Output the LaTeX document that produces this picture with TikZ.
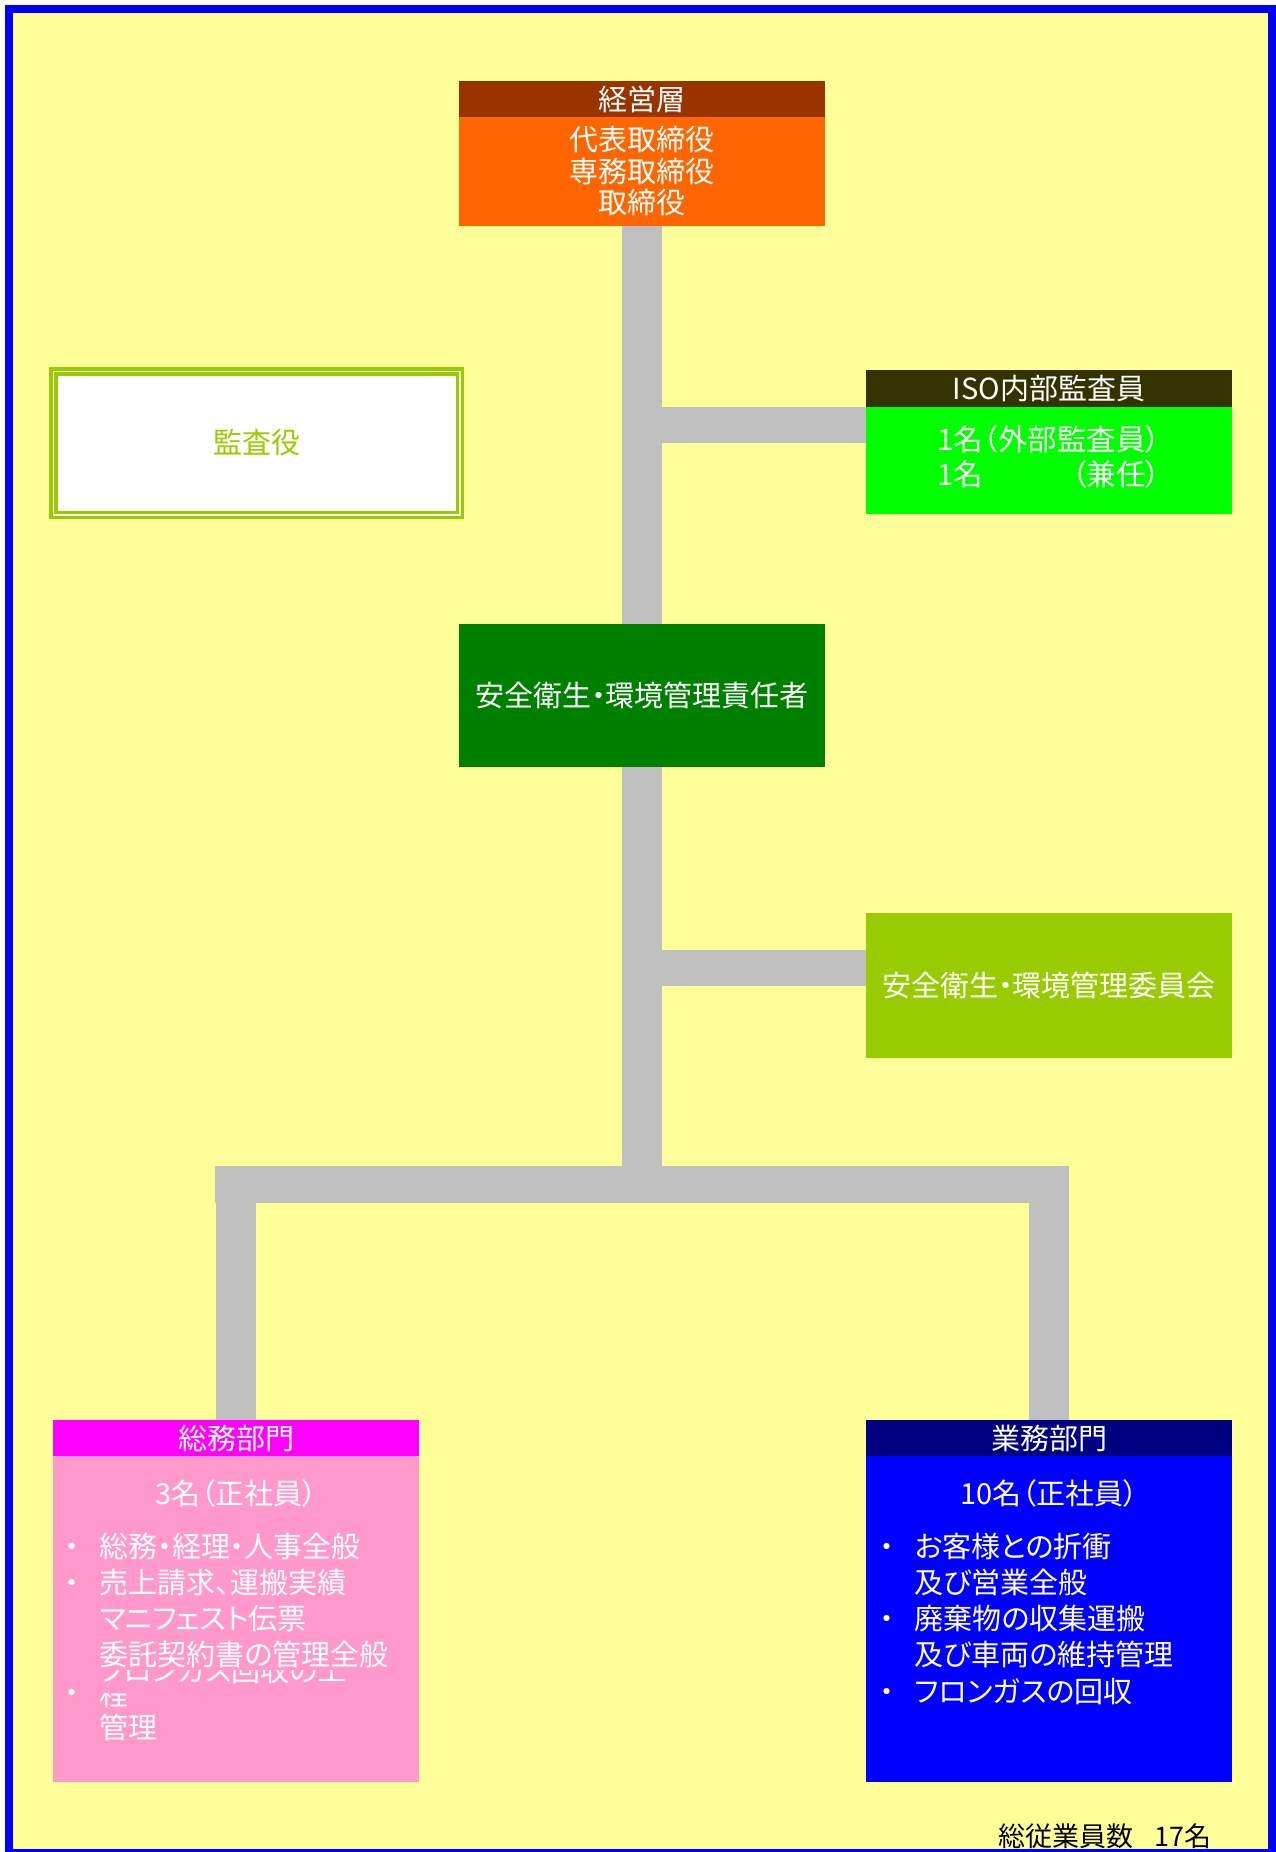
\documentclass[tikz,border=0pt]{standalone}
\usepackage{fontspec}
\setmainfont[RawFeature=+palt]{Noto Sans CJK JP}
\usetikzlibrary{calc}
\definecolor{bgyellow}{HTML}{FFFF99}
\definecolor{linkgray}{HTML}{C0C0C0}
\definecolor{mgmthead}{HTML}{993300}
\definecolor{mgmtbody}{HTML}{FF6600}
\definecolor{isohead}{HTML}{333300}
\definecolor{isobody}{HTML}{00FF00}
\definecolor{auditgreen}{HTML}{99CC00}
\definecolor{safetygreen}{HTML}{008000}
\definecolor{soumuhead}{HTML}{FF00FF}
\definecolor{soumubody}{HTML}{FF99CC}
\definecolor{gyoumuhead}{HTML}{000080}
\definecolor{gyoumubody}{HTML}{0000FF}
\newcommand{\fsz}[2]{\fontsize{#1}{#2}\selectfont}
\newcommand{\listdot}{\makebox[29pt]{・}}
\tikzset{
	box/.style={rectangle, inner sep=0pt, minimum width=366pt, text=white, font=\fsz{29}{32}},
	list/.style={anchor=base west, inner sep=0pt, text=white, font=\fsz{29}{36.3}},
	link/.style={draw=linkgray, line width=40pt},
}

\begin{document}
\begin{tikzpicture}[x=1pt, y=-1pt]
		\useasboundingbox (0,0) rectangle (1275,1852);
		\draw[blue, line width=8pt, fill=bgyellow] (9,9) rectangle (1272,1853);
		%Management
		\node [box, fill=mgmthead, minimum height=36pt] (mgmthead) at (642,99) {経営層};
		\node [box, fill=mgmtbody, minimum height=109pt, align=center, font=\fsz{29}{31.5}] (mgmt) at (642,171.5) {代表取締役\\専務取締役\\取締役};
		%Audit
		\node [draw=auditgreen, double=white, double distance=1.5pt, line width=3.5pt, fill=white, inner sep=0pt, minimum width=406.5pt, minimum height=143.5pt, text=auditgreen, font=\fsz{29}{32}] (audit) at (256.5,443) {監査役};
		%ISO
		\node [box, fill=isohead, minimum height=37pt] (isohead) at (1049,388.5) {ISO内部監査員};
		\node [box, fill=isobody, minimum height=107pt, font=\fsz{29.5}{33}] (iso) at (1049,460.5) {\begin{tabular}{@{}l@{}}1名（外部監査員）\\1名\hfill（兼任）\end{tabular}};
		%Safety
		\node [box, fill=safetygreen, minimum height=143pt] (safety) at (642,695.5) {安全衛生・環境管理責任者};
		\node [box, fill=auditgreen, minimum height=145pt] (committee) at (1049,985.5) {安全衛生・環境管理委員会};
		%Departments
		\node [box, fill=soumuhead, minimum height=36pt] (soumuhead) at (236,1438) {総務部門};
		\node [box, fill=soumubody, minimum height=326pt] (soumu) at (236,1619) {};
		\node [box, fill=gyoumuhead, minimum height=36pt] (gyoumuhead) at (1049,1438) {業務部門};
		\node [box, fill=gyoumubody, minimum height=326pt] (gyoumu) at (1049,1619) {};
		\node [text=white, inner sep=0pt, font=\fsz{29}{34}] (soumucount) at (236,1493) {3名（正社員）};
		\node [text=white, inner sep=0pt, font=\fsz{29}{34}] (gyoumucount) at (1049,1493) {10名（正社員）};
		\node [list] (soumulist) at (57.5,1557) {\begin{tabular}[t]{@{}c@{\hspace{13pt}}l@{}}
			\listdot & 総務・経理・人事全般\\
			\listdot & 売上請求、運搬実績\\
			& マニフェスト伝票\\
			& 委託契約書の管理全般
		\end{tabular}};
		\begin{scope}
			\clip (58,1670) rectangle (419,1689);
			\node [list] (fron) at (99.5,1681) {フロンガス回収の工};
		\end{scope}
		\begin{scope}
			\clip (58,1693) rectangle (419,1711);
			\node [list] (tei) at (99.5,1705) {程};
		\end{scope}
		\node [list] (frondot) at (57.5,1703) {\listdot};
		\node [list] (kanri) at (99.5,1738) {管理};
		\node [list] (gyoumulist) at (872.5,1557) {\begin{tabular}[t]{@{}c@{\hspace{13pt}}l@{}}
			\listdot & お客様との折衝\\
			& 及び営業全般\\
			\listdot & 廃棄物の収集運搬\\
			& 及び車両の維持管理\\
			\listdot & フロンガスの回収
		\end{tabular}};
		\node [inner sep=0pt, font=\fsz{27}{30}] (total) at (1105,1836) {総従業員数\hspace{0.8em}17名};
		%links
		\coordinate (isoJ) at (642,425);
		\coordinate (comJ) at (642,967.5);
		\coordinate (barJ) at (642,1184.5);
		\draw [link] (mgmt.south) -- (safety.north);
		\draw [link, line width=36pt] (isoJ) -- (isoJ -| iso.west);
		\draw [link] (safety.south) -- (barJ);
		\draw [link, line width=36pt] (comJ) -- (comJ -| committee.west);
		\draw [link, line width=37pt] ($(barJ -| soumuhead.north)+(-21,0)$) -- ($(barJ -| gyoumuhead.north)+(20,0)$);
		\draw [link] (soumuhead.north) -- (soumuhead.north |- barJ);
		\draw [link] (gyoumuhead.north) -- (gyoumuhead.north |- barJ);
\end{tikzpicture}
\end{document}
